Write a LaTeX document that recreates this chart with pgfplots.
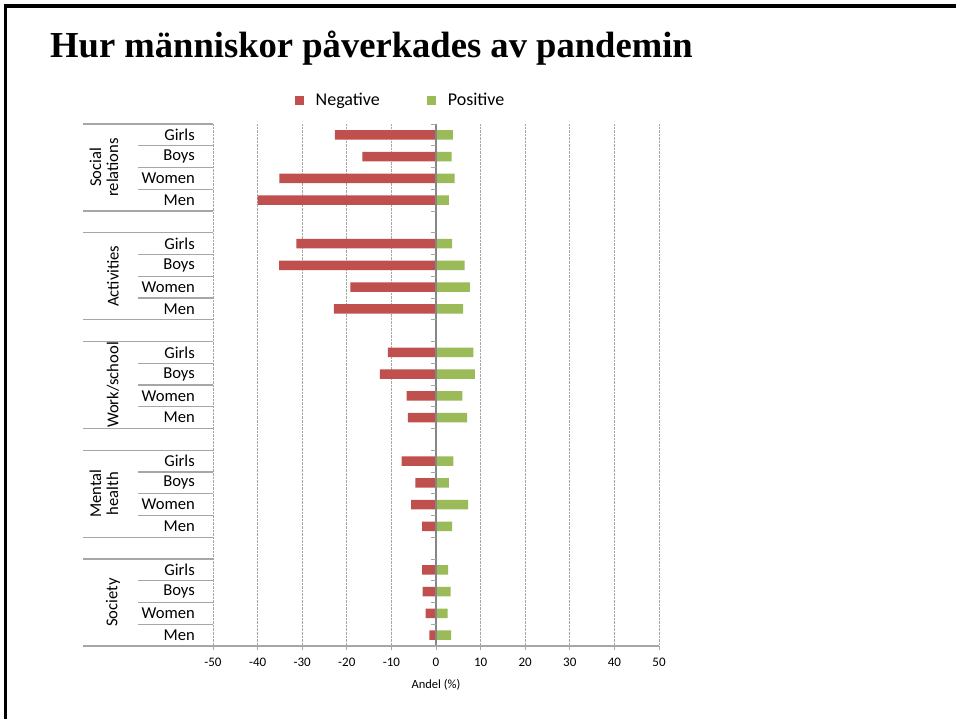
\documentclass[border=0pt]{standalone}
\usepackage{fontspec}
\setmainfont{Carlito}
\newfontfamily\titlefont{Liberation Serif}
\usepackage{pgfplots}
\pgfplotsset{compat=1.18}
\usepackage{pgfplotstable}

\definecolor{negred}{HTML}{C0504D}
\definecolor{posgreen}{HTML}{9BBB59}
\definecolor{linegray}{HTML}{A6A6A6}
\definecolor{axisgray}{HTML}{868686}

% y = slot centre (0 = top), neg, pos
\pgfplotstableread{
y    neg    pos
0.5  -22.7  3.8
1.5  -16.5  3.5
2.5  -35.1  4.2
3.5  -40.0  2.9
5.5  -31.3  3.6
6.5  -35.2  6.4
7.5  -19.2  7.6
8.5  -22.9  6.1
10.5 -10.8  8.4
11.5 -12.6  8.7
12.5  -6.6  5.9
13.5  -6.3  7.0
15.5  -7.7  3.9
16.5  -4.6  2.9
17.5  -5.6  7.2
18.5  -3.1  3.6
20.5  -3.1  2.7
21.5  -3.0  3.3
22.5  -2.3  2.6
23.5  -1.5  3.4
}\datatable

\begin{document}
\begin{tikzpicture}
\path[use as bounding box, fill=white] (0,0) rectangle (956bp,-719bp);
% slide frame
\fill[black] (3.5bp,-4bp) rectangle (956bp,-7.5bp);
\fill[black] (3.5bp,-4bp) rectangle (7bp,-719bp);
% title
\node[anchor=base west, inner sep=0pt, font=\titlefont\bfseries\fontsize{36.6bp}{40bp}\selectfont]
  at (50bp,-57.5bp) {Hur människor påverkades av pandemin};

\begin{axis}[
  at={(213bp,-646bp)}, anchor=south west,
  scale only axis, width=446bp, height=522bp,
  xmin=-50, xmax=50, ymin=0, ymax=24, y dir=reverse,
  clip=false,
  axis line style={draw=none},
  xtick={-50,-40,...,50},
  xticklabels={-50,-40,-30,-20,-10,0,10,20,30,40,50},
  xtick style={draw=none},
  xmajorgrids,
  grid style={densely dotted, line width=0.8bp, color=linegray},
  xticklabel style={font=\fontsize{13bp}{15bp}\selectfont, inner sep=0pt, anchor=north, yshift=-11.5bp},
  ytick={0.5,1.5,2.5,3.5,5.5,6.5,7.5,8.5,10.5,11.5,12.5,13.5,15.5,16.5,17.5,18.5,20.5,21.5,22.5,23.5},
  yticklabels={Girls,Boys,Women,Men,Girls,Boys,Women,Men,Girls,Boys,Women,Men,Girls,Boys,Women,Men,Girls,Boys,Women,Men},
  ytick style={draw=none},
  yticklabel style={font=\fontsize{16.6bp}{18bp}\selectfont, inner sep=0pt, anchor=east, xshift=-18bp},
  xlabel={Andel (\%)},
  xlabel style={font=\fontsize{12.5bp}{14bp}\selectfont, inner sep=0pt, at={(axis description cs:0.5,0)}, anchor=north, yshift=-33bp},
  legend columns=2,
  legend style={at={(axis description cs:0.4205,1.045)}, anchor=center, draw=none, fill=none,
    font=\fontsize{18bp}{20bp}\selectfont,
    /tikz/every odd column/.append style={column sep=10bp},
    /tikz/every even column/.append style={column sep=45bp},
    nodes={inner sep=2bp}},
]
\addplot[xbar, bar width=9.5bp, bar shift=0pt, fill=negred, draw=none,
  legend image code/.code={\fill[negred] (0bp,-4.8bp) rectangle (9bp,4.8bp);}]
  table[x=neg, y=y] {\datatable};
\addlegendentry{Negative}
\addplot[xbar, bar width=9.5bp, bar shift=0pt, fill=posgreen, draw=none,
  legend image code/.code={\fill[posgreen] (0bp,-4.8bp) rectangle (9bp,4.8bp);}]
  table[x=pos, y=y] {\datatable};
\addlegendentry{Positive}

% zero axis line with category ticks
\draw[axisgray, line width=1.3bp] (axis cs:0,0) -- (axis cs:0,24);
\pgfplotsinvokeforeach{0,...,24}{
  \draw[linegray, line width=1bp] (axis cs:0,#1) -- ++(-5bp,0bp);
}
% bottom axis line and x ticks
\draw[linegray, line width=1.2bp] ([xshift=-130bp]axis cs:-50,24) -- (axis cs:50,24);
\pgfplotsinvokeforeach{-50,-40,...,50}{
  \draw[linegray, line width=1bp] (axis cs:#1,24) -- ++(0bp,-4bp);
}
% category label table lines
\pgfplotsinvokeforeach{0,4,5,9,10,14,15,19,20}{
  \draw[linegray, line width=1.2bp] ([xshift=-130bp]axis cs:-50,#1) -- (axis cs:-50,#1);
}
\pgfplotsinvokeforeach{1,2,3,6,7,8,11,12,13,16,17,18,21,22,23}{
  \draw[linegray, line width=1.2bp] ([xshift=-75bp]axis cs:-50,#1) -- (axis cs:-50,#1);
}
% group labels
\node[rotate=90, align=center, inner sep=0pt, font=\fontsize{16.6bp}{17bp}\selectfont] at ([xshift=-109bp]axis cs:-50,2) {Social\\relations};
\node[rotate=90, align=center, inner sep=0pt, font=\fontsize{16.6bp}{17bp}\selectfont] at ([xshift=-100bp]axis cs:-50,7) {Activities};
\node[rotate=90, align=center, inner sep=0pt, font=\fontsize{16.6bp}{17bp}\selectfont] at ([xshift=-100bp]axis cs:-50,12) {Work/school};
\node[rotate=90, align=center, inner sep=0pt, font=\fontsize{16.6bp}{17bp}\selectfont] at ([xshift=-109bp]axis cs:-50,17) {Mental\\health};
\node[rotate=90, align=center, inner sep=0pt, font=\fontsize{16.6bp}{17bp}\selectfont] at ([xshift=-100bp]axis cs:-50,22) {Society};
\end{axis}
\end{tikzpicture}
\end{document}
